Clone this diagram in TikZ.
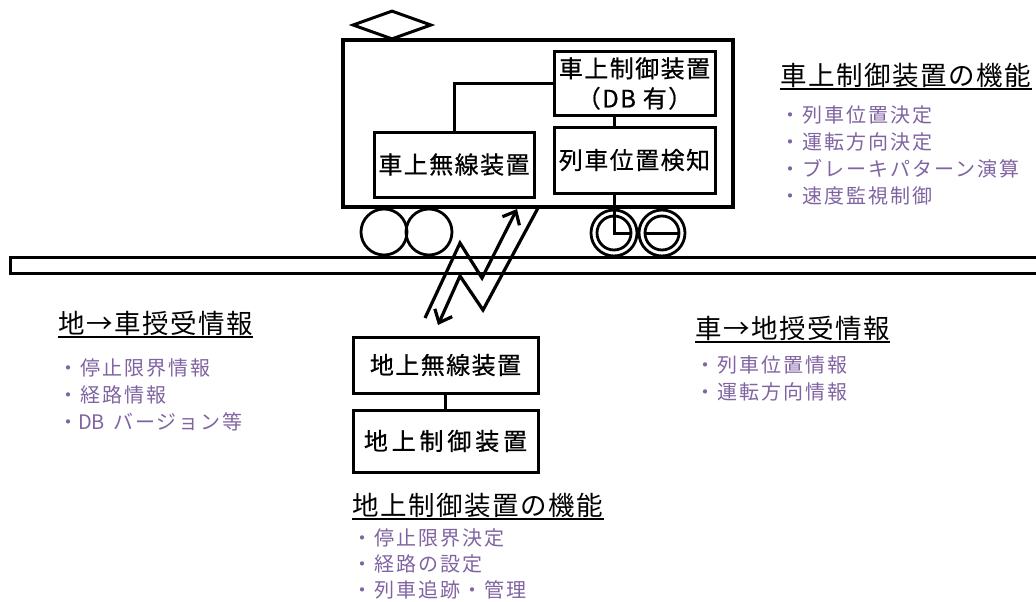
\documentclass[tikz,border=0pt]{standalone}
\usepackage{fontspec}
\newfontfamily\boxfont{Noto Sans CJK JP}[LetterSpace=6, FakeBold=0.6]
\newfontfamily\headfont{Noto Sans CJK JP}[LetterSpace=6]
\newfontfamily\itemfont{Noto Sans CJK JP}[LetterSpace=10]
\newfontfamily\latinfont{Noto Sans CJK JP}
\newcommand\tightDB{{\latinfont DB}\hspace{0.4em}}
\definecolor{itempurple}{HTML}{8064A2}
\usetikzlibrary{positioning, shapes.geometric, arrows.meta}

\begin{document}
\begin{tikzpicture}[x=1pt, y=-1pt,
  unit/.style={draw, line width=3pt, inner sep=0pt, align=center,
               font=\boxfont\fontsize{24}{30}\selectfont},
  pantograph/.style={draw, diamond, line width=3pt, inner sep=0pt,
                     minimum width=79pt, minimum height=29pt},
  wheel/.style={draw, circle, line width=2.8pt, inner sep=0pt, minimum size=46pt},
  hub/.style={draw, circle, line width=2.8pt, inner sep=0pt, minimum size=34pt},
  link/.style={line width=3pt},
  radio/.style={line width=3.2pt, -{Straight Barb[length=11pt,width=19pt]}},
  head/.style={font=\headfont\fontsize{26.5}{30}\selectfont, inner xsep=0pt,
               inner ysep=1.5pt, anchor=south west},
  uline/.style={line width=2.4pt},
  item/.style={font=\itemfont\fontsize{20}{27}\selectfont, text=itempurple,
               align=left, inner sep=0pt},
]
\useasboundingbox (0,0) rectangle (1036,602);

% rail
\draw[link] (1036,257) -| (10,273) -- (1036,273);

% car body and on-board units
\node[draw, line width=3.2pt, minimum width=390pt, minimum height=167pt] (car) at (538,123.5) {};
\node[pantograph] (panto) at (392,25) {};
\node[unit, minimum width=160pt, minimum height=65pt] (obradio) at (454,164.5) {車上無線装置};
\node[unit, minimum width=161pt, minimum height=63pt] (obctrl) at (634.5,83.5) {車上制御装置\\（DB 有）};
\node[unit, minimum width=161pt, minimum height=66pt] (detect) at (634.5,160) {列車位置検知};

\node[wheel] (wa) at (384,232) {};
\node[wheel] (wb) at (429,232) {};
\node[wheel] (wc) at (614,233) {};
\node[hub] (wci) at (614,233) {};
\node[wheel] (wd) at (662,233) {};
\node[hub] (wdi) at (662,233) {};

\draw[link] (obradio.north) |- (obctrl.west);
\draw[link] (obctrl.south -| wci.center) -- (detect.north -| wci.center);
\draw[link] (detect.south -| wci.center) -- (wci.center) -- (wci.east);
\draw[link] (wdi.west) -- (wdi.east);

% ground units
\node[unit, minimum width=185pt, minimum height=56pt] (gdradio) at (445.5,365) {地上無線装置};
\node[unit, minimum width=185pt, minimum height=62pt] (gdctrl) at (445.5,441)
  {\addfontfeature{LetterSpace=16}地上制御装置};
\draw[link] (gdradio.south) -- (gdctrl.north);

% radio link
\coordinate (up0) at (425,318);
\coordinate (up1) at (460,243);
\coordinate (up2) at (482,278);
\coordinate (up3) at (517,209);
\coordinate (dn0) at (538,208);
\coordinate (dn1) at (483,310);
\coordinate (dn2) at (460,276);
\coordinate (dn3) at (438,325);
\draw[radio] (up0) -- (up1) -- (up2) -- (up3);
\draw[radio] (dn0) -- (dn1) -- (dn2) -- (dn3);

% function lists
\node[head] (hdcar) at (780,89) {車上制御装置の機能};
\draw[uline] (hdcar.south west) -- (hdcar.south east);
\node[item, below=16pt of hdcar.south west, anchor=north west] (lscar)
  {・列車位置決定\\・運転方向決定\\・ブレーキパターン演算\\・速度監視制御};

\node[head] (hdup) at (58,337) {地→車授受情報};
\draw[uline] (hdup.south west) -- (hdup.south east);
\node[item, below=21pt of hdup.south west, anchor=north west] (lsup)
  {・停止限界情報\\・経路情報\\・\tightDB バージョン等};

\node[head] (hddown) at (695,342) {車→地授受情報};
\draw[uline] (hddown.south west) -- (hddown.south east);
\node[item, below=13pt of hddown.south west, anchor=north west] (lsdown)
  {・列車位置情報\\・運転方向情報};

\node[head] (hdgnd) at (352,519) {地上制御装置の機能};
\draw[uline] (hdgnd.south west) -- (hdgnd.south east);
\node[item, font=\itemfont\fontsize{20}{26}\selectfont,
      below=9pt of hdgnd.south west, anchor=north west] (lsgnd)
  {・停止限界決定\\・経路の設定\\・列車追跡・管理};
\end{tikzpicture}
\end{document}
